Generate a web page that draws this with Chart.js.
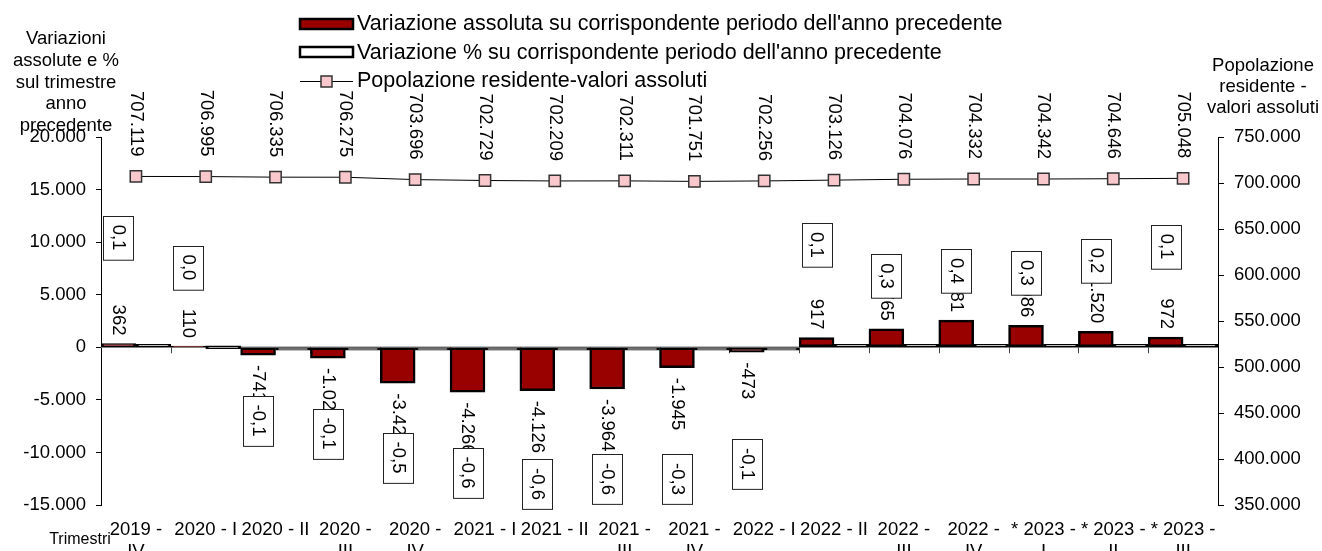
<!DOCTYPE html>
<html>
<head>
<meta charset="utf-8">
<script src="https://cdn.jsdelivr.net/npm/chart.js@4/dist/chart.umd.min.js"></script>
<style>
  body { margin: 0; background: #fff; }
  #wrap { width: 1322px; height: 551px; position: relative; }
</style>
</head>
<body>
<div id="wrap"><canvas id="popChart"></canvas></div>
<script>
// quarters
const categories = [
    ['2019 -', 'IV'], '2020 - I', '2020 - II', ['2020 -', 'III'], ['2020 -', 'IV'],
    '2021 - I', '2021 - II', ['2021 -', 'III'], ['2021 -', 'IV'],
    '2022 - I', '2022 - II', ['2022 -', 'III'], ['2022 -', 'IV'],
    ['* 2023 -', 'I'], ['* 2023 -', 'II'], ['* 2023 -', 'III']
];
const absChange = [362, 110, -741, -1024, -3423, -4266, -4126, -3964, -1945, -473, 917, 1765, 2581, 2086, 1520, 972];
const pctChange = [0.1, 0.0, -0.1, -0.1, -0.5, -0.6, -0.6, -0.6, -0.3, -0.1, 0.1, 0.3, 0.4, 0.3, 0.2, 0.1];
const population = [707119, 706995, 706335, 706275, 703696, 702729, 702209, 702311, 701751, 702256, 703126, 704076, 704332, 704342, 704646, 705048];

// axis ranges
const leftAxis = { min: -15000, max: 20000, step: 5000 };
const rightAxis = { min: 350000, max: 750000, step: 50000 };

// where the % boxes sit, in left axis units
const pctBoxAt = [10443, 7590, -6962, -8199, -10482, -11908, -13002, -12527, -12527, -11100, 9730, 6781, 7257, 7067, 8255, 9587];

const FONT = '"Liberation Sans", Arial, sans-serif';
const RED = '#990000';
const PINK = '#F9C8CC';

function fmtInt(v) {
    const s = Math.abs(Math.round(v)).toString().replace(/\B(?=(\d{3})+(?!\d))/g, '.');
    return (v < 0 ? '-' : '') + s;
}
function fmtPct(v) {
    return v.toFixed(1).replace('.', ',');
}

function rotText(ctx, text, x, y, align) {
    ctx.save();
    ctx.translate(x, y);
    ctx.rotate(Math.PI / 2);
    ctx.textAlign = align;
    ctx.textBaseline = 'middle';
    ctx.fillText(text, 0, 0);
    ctx.restore();
}

// zero line with category ticks
const zeroLine = {
    id: 'zeroLine',
    beforeDatasetsDraw(chart) {
        const ctx = chart.ctx;
        const area = chart.chartArea;
        const y0 = chart.scales.y.getPixelForValue(0);
        ctx.save();
        ctx.strokeStyle = '#808080';
        ctx.lineWidth = 1.5;
        ctx.beginPath();
        ctx.moveTo(area.left, y0);
        ctx.lineTo(area.right, y0);
        ctx.stroke();
        const step = (area.right - area.left) / categories.length;
        ctx.strokeStyle = '#444';
        ctx.lineWidth = 1;
        for (let k = 1; k < categories.length; k++) {
            const x = Math.round(area.left + k * step) + 0.5;
            ctx.beginPath();
            ctx.moveTo(x, y0);
            ctx.lineTo(x, y0 + 6);
            ctx.stroke();
        }
        ctx.restore();
    }
};

// value labels, % boxes, legend and axis titles
const extras = {
    id: 'extras',
    afterDatasetsDraw(chart) {
        const ctx = chart.ctx;
        const yScale = chart.scales.y;
        const barMeta = chart.getDatasetMeta(1);
        const lineMeta = chart.getDatasetMeta(0);
        ctx.save();
        ctx.fillStyle = '#000';
        ctx.font = '18.5px ' + FONT;

        // population labels above the line
        lineMeta.data.forEach((pt, i) => {
            rotText(ctx, fmtInt(population[i]), pt.x, pt.y - 20, 'right');
        });

        // absolute change labels
        barMeta.data.forEach((bar, i) => {
            const v = absChange[i];
            if (v >= 0) {
                rotText(ctx, fmtInt(v), bar.x, bar.y - 8, 'right');
            } else {
                rotText(ctx, fmtInt(v), bar.x, bar.y + 10, 'left');
            }
        });

        // % boxes
        barMeta.data.forEach((bar, i) => {
            const txt = fmtPct(pctChange[i]);
            const w = ctx.measureText(txt).width;
            const h = w + 18;
            const cy = yScale.getPixelForValue(pctBoxAt[i]);
            const bx = Math.round(bar.x - 15) + 0.5;
            const by = Math.round(cy - h / 2) + 0.5;
            ctx.fillStyle = '#fff';
            ctx.fillRect(bx, by, 30, h);
            ctx.strokeStyle = '#222';
            ctx.lineWidth = 1;
            ctx.strokeRect(bx, by, 30, h);
            ctx.fillStyle = '#000';
            ctx.save();
            ctx.translate(bar.x, cy);
            ctx.rotate(Math.PI / 2);
            ctx.textAlign = 'center';
            ctx.textBaseline = 'middle';
            ctx.fillText(txt, 0, 0);
            ctx.restore();
        });
        ctx.restore();
    },
    afterDraw(chart) {
        const ctx = chart.ctx;
        const ds = chart.data.datasets;
        ctx.save();

        // legend
        ctx.font = '21.5px ' + FONT;
        ctx.textAlign = 'left';
        ctx.textBaseline = 'alphabetic';
        ctx.lineWidth = 2.5;
        ctx.strokeStyle = '#000';
        ctx.fillStyle = RED;
        ctx.fillRect(300, 19, 53, 10);
        ctx.strokeRect(300, 19, 53, 10);
        ctx.fillStyle = '#fff';
        ctx.fillRect(300, 47, 53, 10);
        ctx.strokeRect(300, 47, 53, 10);
        ctx.lineWidth = 1;
        ctx.beginPath();
        ctx.moveTo(300, 81.5);
        ctx.lineTo(353, 81.5);
        ctx.stroke();
        ctx.fillStyle = PINK;
        ctx.fillRect(321, 76, 11, 11);
        ctx.strokeStyle = '#333';
        ctx.lineWidth = 1.5;
        ctx.strokeRect(321, 76, 11, 11);
        ctx.fillStyle = '#000';
        ctx.fillText(ds[1].label, 357, 30);
        ctx.fillText(ds[2].label, 357, 58.5);
        ctx.fillText(ds[0].label, 357, 87);

        // axis titles
        ctx.font = '18.5px ' + FONT;
        ctx.textAlign = 'center';
        ctx.textBaseline = 'middle';
        ['Variazioni', 'assolute e %', 'sul trimestre', 'anno', 'precedente'].forEach((t, i) => {
            ctx.fillText(t, 66, 39 + i * 21.8);
        });
        ['Popolazione', 'residente -', 'valori assoluti'].forEach((t, i) => {
            ctx.fillText(t, 1263, 66 + i * 21);
        });
        ctx.font = '16px ' + FONT;
        ctx.fillText('Trimestri', 80, 540);
        ctx.restore();
    }
};

new Chart(document.getElementById('popChart'), {
    data: {
        labels: categories,
        datasets: [
            {
                type: 'line',
                label: 'Popolazione residente-valori assoluti',
                data: population,
                yAxisID: 'y2',
                order: 0,
                borderColor: '#000',
                borderWidth: 1,
                pointStyle: 'rect',
                pointRadius: 8,
                pointBackgroundColor: PINK,
                pointBorderColor: '#333',
                pointBorderWidth: 1.5
            },
            {
                type: 'bar',
                label: "Variazione assoluta su corrispondente periodo dell'anno precedente",
                data: absChange,
                yAxisID: 'y',
                order: 1,
                backgroundColor: RED,
                borderColor: '#000',
                borderWidth: 2.5,
                borderSkipped: false,
                categoryPercentage: 1,
                barPercentage: 1
            },
            {
                type: 'bar',
                label: "Variazione % su corrispondente periodo dell'anno precedente",
                data: pctChange,
                yAxisID: 'y',
                order: 2,
                backgroundColor: '#fff',
                borderColor: '#000',
                borderWidth: 3,
                borderSkipped: false,
                minBarLength: 3,
                categoryPercentage: 1,
                barPercentage: 1
            }
        ]
    },
    options: {
        responsive: true,
        maintainAspectRatio: false,
        animation: false,
        layout: { padding: { top: 137, left: 0, right: 0, bottom: 0 } },
        plugins: {
            legend: { display: false },
            tooltip: { enabled: false }
        },
        scales: {
            x: {
                grid: { display: false },
                border: { display: false },
                ticks: {
                    autoSkip: false,
                    maxRotation: 0,
                    padding: 6,
                    color: '#000',
                    font: { family: FONT, size: 18.5 }
                },
                afterFit(scale) { scale.height = 46; }
            },
            y: {
                position: 'left',
                min: leftAxis.min,
                max: leftAxis.max,
                grid: { drawOnChartArea: false, color: '#000', tickLength: 5 },
                border: { color: '#000', width: 1 },
                ticks: {
                    stepSize: leftAxis.step,
                    padding: 10,
                    color: '#000',
                    font: { family: FONT, size: 18.5 },
                    callback: v => fmtInt(v)
                },
                afterFit(scale) { scale.width = 101; }
            },
            y2: {
                position: 'right',
                min: rightAxis.min,
                max: rightAxis.max,
                grid: { drawOnChartArea: false, color: '#000', tickLength: 6 },
                border: { color: '#000', width: 1 },
                ticks: {
                    stepSize: rightAxis.step,
                    padding: 10,
                    color: '#000',
                    font: { family: FONT, size: 18.5 },
                    callback: v => fmtInt(v)
                },
                afterFit(scale) { scale.width = 104; }
            }
        }
    },
    plugins: [zeroLine, extras]
});
</script>
</body>
</html>
